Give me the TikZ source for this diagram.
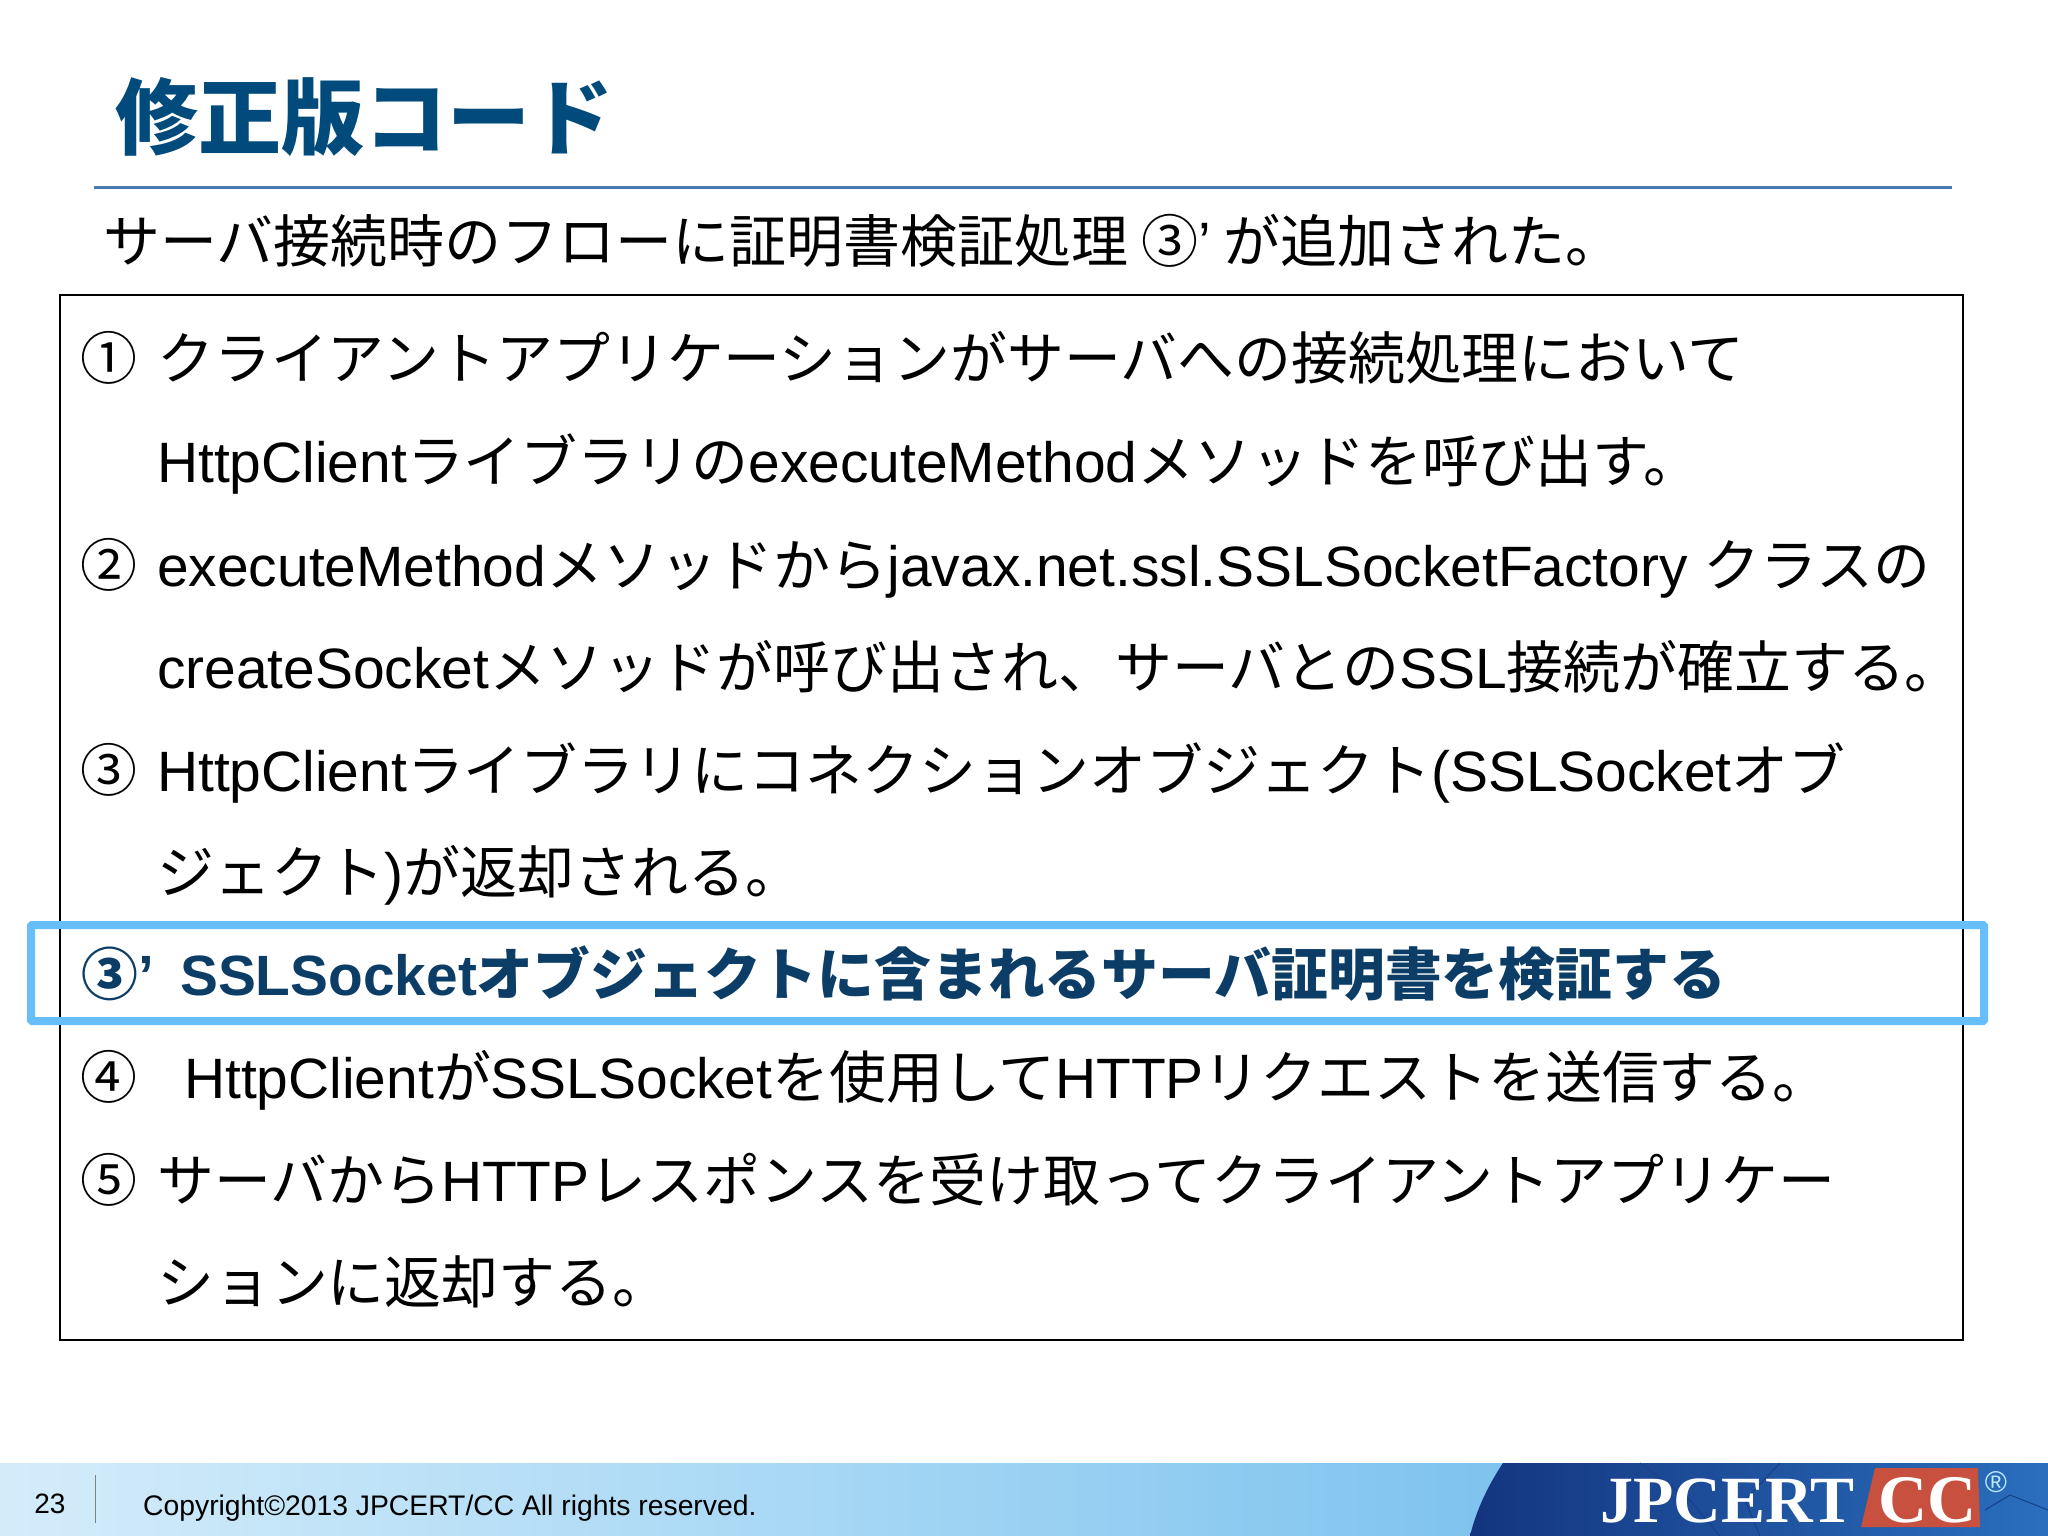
\documentclass[tikz,border=0pt]{standalone}
\usepackage{fontspec}
\setmainfont{Liberation Sans}
\newfontfamily\cjk{Noto Sans CJK JP}
\newfontfamily\logofont{Liberation Serif}
\newcommand{\ja}[1]{{\cjk #1}}
\definecolor{titleblue}{HTML}{004B7C}
\definecolor{ruleblue}{HTML}{4A7AAE}
\definecolor{markblue}{HTML}{66BFFA}
\definecolor{darktext}{HTML}{0B3D66}
\definecolor{logored}{HTML}{C8503F}
\definecolor{bandleft}{HTML}{D4ECFA}
\definecolor{bandmid}{HTML}{AAD9F5}
\definecolor{bandright}{HTML}{7DC2EE}
\definecolor{logodark}{HTML}{14357F}
\definecolor{logolight}{HTML}{2A6FBE}
\definecolor{logocrack}{HTML}{173F88}
\usetikzlibrary{positioning}

\begin{document}
\begin{tikzpicture}[x=1pt,y=-1pt]

        % Setup the style for the lines
        \tikzset{line style/.style={anchor=base west,
                                    inner sep=0pt,
                                    font=\fontsize{56.9}{60}\selectfont},
                 bold style/.style={line style,
                                    text=darktext,
                                    font=\bfseries\fontsize{56.8}{60}\selectfont},
                 logo style/.style={anchor=base west,
                                    inner sep=0pt,
                                    text=white,
                                    font=\logofont\bfseries\fontsize{66}{70}\selectfont}}
        \useasboundingbox (0,0) rectangle (2048,1536);

        % Draw the heading
        \node[line style,text=titleblue,font=\bfseries\fontsize{83}{86}\selectfont] at (115,149) (title) {\ja{修正版コード}};
        \draw[line width=3pt,draw=ruleblue] (94,187) -- (1952,187);
        \node[line style,font=\fontsize{57}{60}\selectfont] at (103,262) (lead) {\ja{サーバ接続時のフローに証明書検証処理 ③}’\ja{ が追加された。}};

        % Draw the frame
        \draw[line width=2pt] (60,295) rectangle (1963,1340);

        % Draw the numbers
        \node[line style] at (80,379) (n1) {\ja{①}};
        \node[line style] at (80,586) (n2) {\ja{②}};
        \node[line style] at (80,791) (n3) {\ja{③}};
        \node[line style] at (80,1098) (n4) {\ja{④}};
        \node[line style] at (80,1201) (n5) {\ja{⑤}};

        % Draw the lines
        \node[line style] at (157,379) (l1) {\ja{クライアントアプリケーションがサーバへの接続処理において}};
        \node[line style] at (157,482) (l2) {HttpClient\ja{ライブラリの}executeMethod\ja{メソッドを呼び出す。}};
        \node[line style] at (157,586) (l3) {executeMethod\ja{メソッドから}javax.net.ssl.SSLSocketFactory \ja{クラスの}};
        \node[line style] at (157,688) (l4) {createSocket\ja{メソッドが呼び出され、サーバとの}SSL\ja{接続が確立する。}};
        \node[line style] at (157,791) (l5) {HttpClient\ja{ライブラリにコネクションオブジェクト}(SSLSocket\ja{オブ}};
        \node[line style] at (157,893) (l6) {\ja{ジェクト}){\ja{が返却される。}}};
        \node[bold style] at (81,995) (l7) {\ja{③}’};
        \node[bold style] at (180,995) (l8) {SSLSocket\ja{オブジェクトに含まれるサーバ証明書を検証する}};
        \node[line style] at (184,1098) (l9) {HttpClient\ja{が}SSLSocket\ja{を使用して}HTTP\ja{リクエストを送信する。}};
        \node[line style] at (157,1201) (l10) {\ja{サーバから}HTTP\ja{レスポンスを受け取ってクライアントアプリケー}};
        \node[line style] at (157,1303) (l11) {\ja{ションに返却する。}};

        % Draw the marker
        \draw[line width=8pt,draw=markblue,rounded corners=1pt] (31,925) rectangle (1984,1021);

        % Draw the footer
        \shade[left color=bandleft,right color=bandmid] (0,1463) rectangle (760,1536);
        \shade[left color=bandmid,right color=bandright] (760,1463) rectangle (1520,1536);
        \shade[left color=logodark,right color=logolight] (1503,1463) .. controls (1485,1490) and (1475,1515) .. (1470,1536) -- (2048,1536) -- (2048,1463) -- cycle;
        \draw[line width=1pt,draw=logocrack] (1640,1463) -- (1690,1500) -- (1720,1536)
                                             (1780,1463) -- (1745,1500) -- (1760,1536)
                                             (1985,1510) -- (2010,1495) -- (2048,1510);
        \fill[logored] (1875,1468) -- (1978,1468) -- (1980,1527) -- (1861,1527) -- cycle;
        \node[logo style] at (1600,1522) (jpcert) {JPCERT};
        \node[logo style,font=\logofont\bfseries\fontsize{68}{70}\selectfont] at (1878,1522) (cc) {CC};
        \node[anchor=center,inner sep=0pt,text=white!75!cyan,font=\fontsize{30}{32}\selectfont] at (1996,1482) (reg) {®};
        \node[anchor=center,inner sep=0pt,font=\fontsize{28}{30}\selectfont] at (50,1504) (page) {23};
        \draw[line width=1pt,draw=gray] (95,1475) -- (95,1523);
        \node[anchor=base west,inner sep=0pt,font=\fontsize{28.3}{30}\selectfont] at (143,1515) (copy) {Copyright©2013 JPCERT/CC All rights reserved.};
\end{tikzpicture}
\end{document}
